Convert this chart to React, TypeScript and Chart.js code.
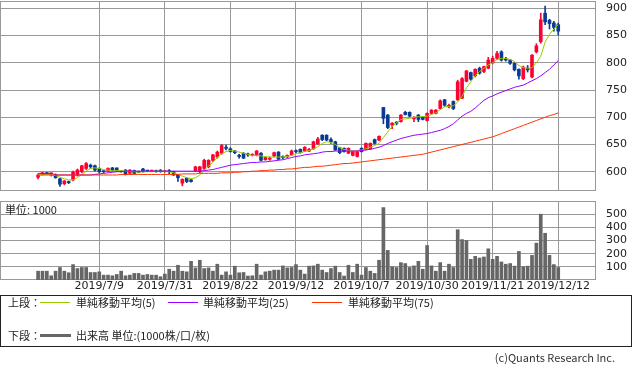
import React, { useEffect, useRef, useState } from 'react';
import { Chart, registerables } from 'chart.js';

Chart.register(...registerables);

// ---- data ----
const tickIndex = [14, 29, 44, 59, 74, 89, 104, 119];
const tickLabels = ['2019/7/9', '2019/7/31', '2019/8/22', '2019/9/12', '2019/10/7', '2019/10/30', '2019/11/21', '2019/12/12'];
const priceTicks = [600, 650, 700, 750, 800, 850, 900];
const volumeTicks = [100, 200, 300, 400, 500];

const open = [
  590, 595, 598, 596, 594, 587, 578, 582, 585, 594,
  600, 606, 612, 611, 606, 601, 601, 607, 607, 601,
  603, 597, 602, 601, 605, 602, 601, 602, 602, 600,
  602, 600, 594, 579, 588, 585, 602, 600, 606, 609,
  621, 627, 634, 645, 642, 638, 630, 634, 632, 630,
  630, 634, 622, 623, 629, 636, 628, 627, 631, 638,
  641, 638, 638, 642, 651, 667, 667, 659, 655, 644,
  643, 634, 630, 628, 643, 641, 642, 659, 658, 718,
  704, 686, 690, 692, 709, 709, 697, 704, 700, 694,
  707, 707, 716, 732, 719, 729, 732, 735, 766, 782,
  776, 790, 784, 790, 800, 808, 820, 808, 805, 799,
  788, 771, 790, 774, 820, 839, 891, 878, 873, 870,
];
const high = [
  596, 599, 599, 598, 596, 588, 584, 583, 601, 605,
  612, 617, 614, 612, 607, 602, 607, 608, 607, 602,
  604, 604, 603, 601, 606, 603, 603, 603, 604, 602,
  604, 601, 595, 587, 589, 586, 610, 610, 623, 622,
  632, 638, 650, 649, 644, 639, 632, 635, 634, 633,
  639, 635, 627, 627, 636, 637, 629, 631, 640, 640,
  642, 646, 643, 656, 663, 668, 668, 662, 656, 645,
  644, 644, 638, 638, 644, 653, 653, 660, 666, 718,
  705, 690, 692, 705, 711, 710, 701, 705, 701, 708,
  714, 714, 732, 733, 724, 730, 768, 773, 786, 783,
  789, 792, 794, 810, 812, 821, 822, 810, 806, 800,
  789, 794, 795, 815, 835, 891, 904, 880, 876, 873,
];
const low = [
  587, 594, 595, 592, 588, 573, 576, 578, 583, 592,
  598, 604, 606, 601, 598, 598, 600, 601, 600, 599,
  594, 596, 596, 598, 599, 600, 600, 599, 599, 599,
  596, 593, 582, 574, 580, 581, 600, 598, 604, 607,
  619, 625, 632, 640, 636, 633, 625, 624, 628, 629,
  629, 620, 621, 621, 627, 622, 624, 626, 630, 635,
  634, 637, 637, 641, 650, 657, 657, 652, 639, 633,
  636, 633, 629, 627, 636, 640, 641, 651, 657, 688,
  679, 679, 686, 691, 704, 701, 692, 692, 695, 693,
  706, 706, 715, 720, 717, 714, 731, 734, 765, 768,
  774, 779, 782, 789, 798, 806, 803, 803, 797, 785,
  770, 769, 783, 772, 818, 836, 870, 862, 858, 851,
];
const close = [
  594, 598, 596, 597, 589, 577, 583, 580, 599, 603,
  611, 615, 609, 603, 600, 600, 606, 602, 602, 600,
  595, 603, 597, 599, 600, 601, 602, 600, 601, 601,
  600, 594, 589, 586, 582, 582, 609, 609, 621, 621,
  631, 636, 648, 643, 637, 635, 628, 625, 631, 632,
  638, 621, 626, 625, 635, 623, 626, 630, 638, 637,
  635, 645, 641, 655, 660, 659, 658, 655, 640, 635,
  637, 643, 637, 637, 637, 652, 652, 652, 665, 698,
  681, 689, 689, 704, 705, 702, 700, 696, 696, 707,
  713, 713, 730, 722, 722, 716, 765, 771, 785, 770,
  788, 781, 793, 805, 808, 817, 805, 805, 799, 787,
  776, 792, 787, 814, 831, 879, 875, 872, 865, 858,
];
const ma5 = [
  594, 595, 595, 594, 593, 590, 587, 585, 585, 589,
  595, 601, 606, 607, 606, 604, 603, 602, 602, 602,
  601, 600, 600, 599, 600, 600, 600, 601, 601, 601,
  600, 598, 595, 592, 589, 587, 589, 594, 603, 610,
  617, 626, 633, 637, 639, 638, 636, 634, 632, 630,
  630, 629, 628, 627, 627, 627, 627, 628, 630, 633,
  635, 637, 639, 642, 646, 652, 655, 654, 650, 644,
  641, 639, 638, 638, 640, 642, 645, 648, 652, 663,
  673, 683, 690, 696, 697, 698, 700, 701, 701, 702,
  705, 708, 714, 719, 720, 721, 728, 738, 754, 765,
  776, 784, 790, 796, 800, 806, 808, 808, 806, 802,
  795, 791, 790, 791, 800, 812, 838, 852, 862, 870,
];
const ma25 = [
  597, 597, 597, 597, 594, 594, 594, 594, 594, 594,
  594, 594, 594, 595, 596, 597, 598, 599, 600, 600,
  601, 601, 601, 601, 601, 601, 601, 601, 601, 601,
  601, 601, 601, 601, 601, 601, 601, 601, 602, 603,
  604, 606, 608, 610, 612, 613, 614, 615, 616, 617,
  617, 618, 618, 619, 620, 621, 622, 624, 626, 628,
  629, 631, 632, 633, 634, 636, 637, 637, 638, 638,
  638, 638, 638, 638, 639, 640, 641, 643, 645, 648,
  652, 655, 658, 661, 663, 665, 667, 668, 669, 670,
  672, 674, 676, 679, 683, 688, 695, 702, 707, 711,
  717, 724, 731, 736, 739, 743, 746, 749, 752, 755,
  757, 759, 763, 767, 771, 776, 782, 788, 796, 804,
];
const ma75 = [
  594, 594, 594, 594, 594, 594, 594, 594, 594, 594,
  594, 594, 594, 594, 594, 594, 594, 594, 594, 595,
  595, 595, 595, 595, 595, 595, 595, 595, 595, 595,
  595, 595, 595, 596, 596, 596, 596, 597, 597, 597,
  597, 597, 598, 598, 598, 599, 599, 600, 600, 601,
  601, 602, 602, 603, 603, 604, 604, 605, 605, 606,
  607, 608, 608, 609, 610, 610, 611, 612, 613, 614,
  615, 615, 616, 617, 618, 619, 620, 621, 622, 623,
  624, 625, 626, 627, 628, 629, 630, 631, 632, 634,
  636, 638, 640, 642, 644, 646, 648, 650, 652, 654,
  656, 658, 660, 662, 664, 667, 670, 673, 676, 679,
  682, 685, 688, 691, 694, 697, 700, 703, 705, 708,
];
const volume = [
  67, 67, 67, 32, 67, 95, 67, 55, 117, 87,
  95, 95, 57, 57, 62, 37, 37, 32, 42, 67,
  32, 37, 50, 50, 37, 42, 37, 37, 25, 45,
  82, 67, 112, 67, 62, 142, 92, 150, 87, 92,
  67, 120, 37, 62, 37, 105, 55, 57, 30, 32,
  120, 37, 62, 67, 75, 75, 107, 92, 95, 117,
  75, 45, 105, 107, 120, 75, 57, 87, 105, 57,
  30, 112, 57, 120, 37, 95, 67, 50, 150, 550,
  225, 100, 95, 132, 125, 95, 107, 142, 82, 262,
  107, 67, 132, 67, 120, 95, 382, 307, 300, 157,
  180, 167, 175, 237, 157, 180, 137, 120, 125, 105,
  217, 100, 105, 187, 280, 500, 355, 187, 117, 95,
];

// ---- styles ----
const UP = '#ff0033';
const DOWN = '#0a3a94';
const GRID = '#999999';
const AXIS_FONT = { family: 'DejaVu Sans', size: 11 };
const JP = '"Noto Sans CJK JP", sans-serif';
const X_MIN = -8.716;
const X_MAX = 127.64;
const VOL_TOP = 200;

// frame around the plot area
const framePlugin = {
  id: 'frame',
  beforeDatasetsDraw(chart: any) {
    const { ctx, chartArea: a } = chart;
    ctx.save();
    ctx.setLineDash([]);
    ctx.strokeStyle = GRID;
    ctx.lineWidth = 1;
    ctx.strokeRect(Math.floor(a.left) + 0.5, Math.floor(a.top) + 0.5, Math.round(a.right - a.left) - 1, Math.round(a.bottom - a.top) - 1);
    ctx.restore();
  },
};

const xScale = (showLabels: boolean, height: number) => ({
  type: 'linear',
  min: X_MIN,
  max: X_MAX,
  offset: false,
  grid: { color: GRID, drawTicks: false, offset: false },
  border: { display: false },
  ticks: {
    display: showLabels,
    autoSkip: false,
    maxRotation: 0,
    padding: 0,
    color: '#222',
    font: AXIS_FONT,
    callback: (v: number) => {
      const k = tickIndex.indexOf(v);
      return k >= 0 ? tickLabels[k] : '';
    },
  },
  afterBuildTicks: (s: any) => {
    s.ticks = tickIndex.map((v) => ({ value: v }));
  },
  afterFit: (s: any) => {
    s.height = height;
    s.paddingLeft = 0;
    s.paddingRight = 0;
  },
});

const yScale = (min: number, max: number, tickValues: number[]) => ({
  type: 'linear',
  position: 'right',
  min,
  max,
  grid: { color: GRID, drawTicks: false },
  border: { display: false },
  ticks: { color: '#222', font: AXIS_FONT, padding: 10 },
  afterBuildTicks: (s: any) => {
    s.ticks = tickValues.map((v) => ({ value: v }));
  },
  afterFit: (s: any) => {
    s.width = 37;
    s.paddingTop = 0;
    s.paddingBottom = 0;
  },
});

export default function App() {
  const mainRef = useRef<HTMLCanvasElement>(null);
  const volRef = useRef<HTMLCanvasElement>(null);
  const [rules, setRules] = useState<{ y: number; l: number; r: number }[]>([]);

  useEffect(() => {
    const idx = close.map((_, i) => i);
    const colors = idx.map((i) => (close[i] >= open[i] ? UP : DOWN));
    const line = (label: string, arr: number[], color: string, order: number) => ({
      type: 'line',
      label,
      data: arr.map((v, i) => ({ x: i, y: v })),
      borderColor: color,
      borderWidth: 1,
      pointRadius: 0,
      tension: 0,
      order,
    });

    const main = new Chart(mainRef.current!, {
      type: 'bar',
      data: {
        datasets: [
          line('単純移動平均(75)', ma75, '#ff3300', 0),
          line('単純移動平均(25)', ma25, '#9900ff', 1),
          line('単純移動平均(5)', ma5, '#99cc00', 2),
          {
            type: 'bar',
            label: 'body',
            data: idx.map((i) => ({ x: i, y: [Math.min(open[i], close[i]), Math.max(open[i], close[i])] })),
            backgroundColor: colors,
            barThickness: 3,
            minBarLength: 1,
            grouped: false,
            order: 3,
          },
          {
            type: 'bar',
            label: 'wick',
            data: idx.map((i) => ({ x: i, y: [low[i], high[i]] })),
            backgroundColor: colors,
            barThickness: 1,
            grouped: false,
            order: 4,
          },
        ] as any,
      },
      options: {
        animation: false,
        responsive: false,
        maintainAspectRatio: false,
        layout: { padding: { top: 1, left: 0, right: 0, bottom: 0 } },
        plugins: { legend: { display: false }, tooltip: { enabled: false } },
        scales: {
          x: xScale(false, 0) as any,
          y: yScale(564.6, 913.4, priceTicks) as any,
        },
      },
      plugins: [framePlugin],
    });

    const vol = new Chart(volRef.current!, {
      type: 'bar',
      data: {
        datasets: [
          {
            label: '出来高',
            data: idx.map((i) => ({ x: i, y: volume[i] })),
            backgroundColor: '#666666',
            barThickness: 3,
            grouped: false,
          },
        ] as any,
      },
      options: {
        animation: false,
        responsive: false,
        maintainAspectRatio: false,
        layout: { padding: { top: 1, left: 0, right: 0, bottom: 0 } },
        plugins: { legend: { display: false }, tooltip: { enabled: false } },
        scales: {
          x: xScale(true, 20) as any,
          y: yScale(0, 600, volumeTicks) as any,
        },
      },
      plugins: [framePlugin],
    });

    // horizontal rules behind the (transparent) canvases, placed by the charts' own y scales
    const ym: any = main.scales.y;
    const yv: any = vol.scales.y;
    const am = main.chartArea;
    const av = vol.chartArea;
    setRules([
      ...priceTicks.map((v) => ({ y: Math.round(ym.getPixelForValue(v) - 0.5), l: am.left, r: am.right })),
      ...volumeTicks.map((v) => ({ y: VOL_TOP + Math.round(yv.getPixelForValue(v) - 0.5), l: av.left, r: av.right })),
    ]);

    return () => {
      main.destroy();
      vol.destroy();
    };
  }, []);

  const txt = (left: number, top: number, s: string, extra: any = {}) => (
    <div style={{ position: 'absolute', left, top, font: `11px ${JP}`, lineHeight: '13px', color: '#222', whiteSpace: 'nowrap', ...extra }}>{s}</div>
  );
  const bar = (left: number, top: number, width: number, height: number, color: string) => (
    <div style={{ position: 'absolute', left, top, width, height, background: color }} />
  );

  return (
    <div style={{ position: 'fixed', left: 0, top: 0, width: 633, height: 368, background: '#fff' }}>
      {rules.map((g, k) => (
        <div key={k} style={{ position: 'absolute', left: g.l, top: g.y, width: g.r - g.l, height: 1, background: GRID }} />
      ))}
      <canvas ref={mainRef} width={633} height={191} style={{ position: 'absolute', left: 0, top: 0 }} />
      <canvas ref={volRef} width={633} height={100} style={{ position: 'absolute', left: 0, top: VOL_TOP }} />
      {txt(5, 203, '単位: 1000')}
      <div style={{ position: 'absolute', left: 0, top: 295, width: 632, height: 52, border: '1px solid #222', boxSizing: 'border-box' }} />
      {txt(8, 296, '上段：')}
      {bar(40, 302, 30, 1, '#99cc00')}
      {txt(76, 296, '単純移動平均(5)')}
      {bar(168, 302, 30, 1, '#9900ff')}
      {txt(203, 296, '単純移動平均(25)')}
      {bar(312, 302, 30, 1, '#ff3300')}
      {txt(348, 296, '単純移動平均(75)')}
      {txt(8, 329, '下段：')}
      {bar(40, 334, 31, 3, '#666666')}
      {txt(76, 329, '出来高 単位:(1000株/口/枚)')}
      <div style={{ position: 'absolute', right: 18, top: 351, font: `11px ${JP}`, lineHeight: '13px', color: '#333', whiteSpace: 'nowrap' }}>(c)Quants Research Inc.</div>
    </div>
  );
}
